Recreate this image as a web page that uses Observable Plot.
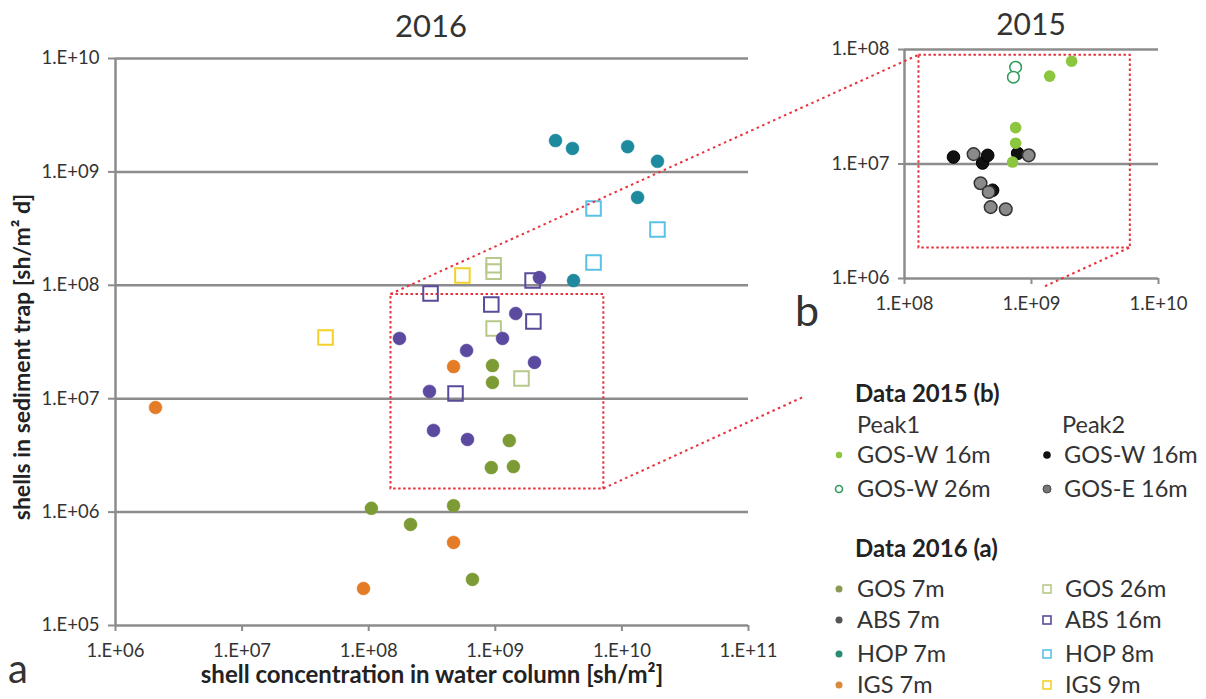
<!DOCTYPE html>
<html><head><meta charset="utf-8">
<script src="https://cdn.jsdelivr.net/npm/d3@7"></script>
<script src="https://cdn.jsdelivr.net/npm/@observablehq/plot@0.6"></script>
<style>
body{margin:0;background:#fff;}
#page{position:relative;width:1206px;height:699px;overflow:hidden;background:#fff;font-family:Lato,"Open Sans",sans-serif;}
#page > svg{position:absolute;}
</style></head><body><div id="page"></div>
<script>
// ---------- 2016 (panel a): shell concentration in water column [sh/m²] vs shells in sediment trap [sh/m² d]
const gos7m_water  = [9.5e8, 9.5e8, 1.29e9, 9.3e8, 1.39e9, 4.68e8, 2.14e8, 6.6e8, 1.05e8];
const gos7m_trap   = [1.96e7, 1.39e7, 4.27e6, 2.47e6, 2.52e6, 1.14e6, 7.78e5, 2.55e5, 1.08e6];
const abs7m_water  = [2.23e9, 1.45e9, 1.75e8, 1.14e9, 5.93e8, 2.04e9, 3.02e8, 3.25e8, 6.03e8];
const abs7m_trap   = [1.17e8, 5.64e7, 3.40e7, 3.40e7, 2.66e7, 2.09e7, 1.16e7, 5.25e6, 4.37e6];
const hop7m_water  = [2.99e9, 4.07e9, 1.11e10, 1.91e10, 1.33e10, 4.15e9];
const hop7m_trap   = [1.89e9, 1.61e9, 1.67e9, 1.24e9, 5.95e8, 1.10e8];
const igs7m_water  = [2.07e6, 9.1e7, 4.68e8, 4.68e8];
const igs7m_trap   = [8.36e6, 2.12e5, 1.92e7, 5.4e5];
const gos26m_water = [9.7e8, 9.7e8, 9.7e8, 1.61e9];
const gos26m_trap  = [1.5e8, 1.32e8, 4.16e7, 1.51e7];
const abs16m_water = [3.08e8, 1.97e9, 9.3e8, 2.0e9, 4.85e8];
const abs16m_trap  = [8.47e7, 1.10e8, 6.78e7, 4.8e7, 1.11e7];
const hop8m_water  = [5.97e9, 1.91e10, 5.97e9];
const hop8m_trap   = [4.75e8, 3.1e8, 1.59e8];
const igs9m_water  = [5.5e8, 4.56e7];
const igs9m_trap   = [1.22e8, 3.47e7];

// ---------- 2015 (panel b)
const p1_gosw16_water = [2.07e9, 1.39e9, 7.5e8, 7.5e8, 7.1e8];
const p1_gosw16_trap  = [7.9e7, 5.85e7, 2.08e7, 1.52e7, 1.04e7];
const p1_gosw26_water = [7.5e8, 7.2e8];
const p1_gosw26_trap  = [7.0e7, 5.73e7];
const p2_gosw16_water = [2.43e8, 4.12e8, 4.52e8, 7.78e8, 4.94e8];
const p2_gosw16_trap  = [1.15e7, 1.02e7, 1.19e7, 1.24e7, 5.9e6];
const p2_gose16_water = [3.5e8, 3.97e8, 4.6e8, 4.77e8, 6.27e8, 9.5e8];
const p2_gose16_trap  = [1.22e7, 6.8e6, 5.7e6, 4.2e6, 4.03e6, 1.19e7];

// zoom boxes
const zoomBoxWater = [1.5e8, 7.2e9];
const zoomBoxTrap  = [1.6e6, 8.3e7];
const insetBoxWater = [1.3e8, 6e9];
const insetBoxTrap  = [1.85e6, 8.9e7];

// ticks
const ticks2016x = [1e6, 1e7, 1e8, 1e9, 1e10, 1e11];
const ticks2016y = [1e5, 1e6, 1e7, 1e8, 1e9, 1e10];
const ticks2015x = [1e8, 1e9, 1e10];
const ticks2015y = [1e6, 1e7, 1e8];

// legend labels
const legend2015Cols = ["Peak1", "Peak2"];
const legend2015Items = [["GOS-W 16m", "GOS-W 26m"], ["GOS-W 16m", "GOS-E 16m"]];
const legend2016Left = ["GOS 7m", "ABS 7m", "HOP 7m", "IGS 7m"];
const legend2016Right = ["GOS 26m", "ABS 16m", "HOP 8m", "IGS 9m"];

// ---------- helpers
const rows = (xs, ys) => xs.map((x, i) => ({x, y: ys[i]}));
const fmtE = d => "1.E+" + String(Math.round(Math.log10(d))).padStart(2, "0");
const GRID = "#8c8c8c", RED = "#e8323c", TXT = "#333";
const C = {
  gos7: "#7d9b35", abs7: "#5b4aa0", hop7: "#1e8a9e", igs7: "#e47b26",
  gos26: "#b6c98a", abs16: "#5a4a9a", hop8: "#5ac2e6", igs9: "#f2d22a",
  p1w16: "#8cc63e", p1w26: "#2e9a5c", p2w16: "#111111", p2e16: "#8a8a8a"
};
const sq = (data, color) => Plot.dot(data, {x: "x", y: "y", symbol: "square", r: 8.2, stroke: color, strokeWidth: 2, fill: "none"});
const ci = (data, color) => Plot.dot(data, {x: "x", y: "y", r: 6.5, fill: color, stroke: color, strokeWidth: 0.5});

const page = document.getElementById("page");
const plotStyle = {fontFamily: "Lato, sans-serif", fontSize: "18.5px", color: TXT, background: "transparent", overflow: "visible"};

// ---------- main 2016 chart
const main = Plot.plot({
  width: 800, height: 699,
  marginLeft: 115, marginRight: 52, marginTop: 58, marginBottom: 74,
  x: {type: "log", domain: [1e6, 1e11]},
  y: {type: "log", domain: [1e5, 1e10]},
  style: plotStyle,
  marks: [
    Plot.ruleY(ticks2016y, {stroke: GRID, strokeWidth: 2.5}),
    Plot.ruleX([1e6], {stroke: GRID, strokeWidth: 2.5}),
    Plot.axisY({ticks: ticks2016y, tickFormat: fmtE, tickSize: 7, tickPadding: 9, stroke: GRID, strokeWidth: 2, label: null}),
    Plot.axisX({ticks: ticks2016x, tickFormat: fmtE, tickSize: 6, tickPadding: 12, stroke: GRID, strokeWidth: 2, label: null}),
    Plot.rect([{x1: zoomBoxWater[0], x2: zoomBoxWater[1], y1: zoomBoxTrap[0], y2: zoomBoxTrap[1]}],
      {x1: "x1", x2: "x2", y1: "y1", y2: "y2", fill: "none", stroke: RED, strokeWidth: 2, strokeDasharray: "2.5,2.5"}),
    sq(rows(gos26m_water, gos26m_trap), C.gos26),
    sq(rows(abs16m_water, abs16m_trap), C.abs16),
    sq(rows(hop8m_water, hop8m_trap), C.hop8),
    sq(rows(igs9m_water, igs9m_trap), C.igs9),
    ci(rows(gos7m_water, gos7m_trap), C.gos7),
    ci(rows(abs7m_water, abs7m_trap), C.abs7),
    ci(rows(hop7m_water, hop7m_trap), C.hop7),
    ci(rows(igs7m_water, igs7m_trap), C.igs7)
  ]
});
main.style.left = "0px"; main.style.top = "0px";
page.appendChild(main);

// ---------- inset 2015 chart
const INSET_LEFT = 800;
const inset = Plot.plot({
  width: 406, height: 322,
  marginLeft: 104, marginRight: 48, marginTop: 49, marginBottom: 44,
  x: {type: "log", domain: [1e8, 1e10]},
  y: {type: "log", domain: [1e6, 1e8]},
  style: plotStyle,
  marks: [
    Plot.ruleY(ticks2015y, {stroke: GRID, strokeWidth: 2.5}),
    Plot.ruleX([1e8], {stroke: GRID, strokeWidth: 2.5}),
    Plot.axisY({ticks: ticks2015y, tickFormat: fmtE, tickSize: 6, tickPadding: 9, stroke: GRID, strokeWidth: 2, label: null}),
    Plot.axisX({ticks: ticks2015x, tickFormat: fmtE, tickSize: 6, tickPadding: 12, stroke: GRID, strokeWidth: 2, label: null}),
    Plot.rect([{x1: insetBoxWater[0], x2: insetBoxWater[1], y1: insetBoxTrap[0], y2: insetBoxTrap[1]}],
      {x1: "x1", x2: "x2", y1: "y1", y2: "y2", fill: "none", stroke: RED, strokeWidth: 2, strokeDasharray: "2.5,2.5"}),
    Plot.dot(rows(p2_gosw16_water, p2_gosw16_trap), {x: "x", y: "y", r: 6.3, fill: C.p2w16, stroke: "#000", strokeWidth: 1}),
    Plot.dot(rows(p2_gose16_water, p2_gose16_trap), {x: "x", y: "y", r: 6.3, fill: C.p2e16, stroke: "#333", strokeWidth: 1.5}),
    Plot.dot(rows(p1_gosw16_water, p1_gosw16_trap), {x: "x", y: "y", r: 5.8, fill: C.p1w16}),
    Plot.dot(rows(p1_gosw26_water, p1_gosw26_trap), {x: "x", y: "y", r: 5.8, fill: "white", stroke: C.p1w26, strokeWidth: 1.5})
  ]
});
inset.style.left = INSET_LEFT + "px"; inset.style.top = "0px";
page.appendChild(inset);

// ---------- overlay: texts, connectors, legend
const ov = d3.select(page).append("svg")
  .attr("width", 1206).attr("height", 699)
  .style("left", "0px").style("top", "0px").style("pointer-events", "none")
  .style("font-family", "Lato, sans-serif");

const mx = main.scale("x").apply, my = main.scale("y").apply;
const ix = v => INSET_LEFT + inset.scale("x").apply(v), iy = inset.scale("y").apply;

// connector lines
const A = [mx(zoomBoxWater[0]), my(zoomBoxTrap[1])], B = [ix(insetBoxWater[0]), iy(insetBoxTrap[1])];
const Cc = [mx(zoomBoxWater[1]), my(zoomBoxTrap[0])], D = [ix(insetBoxWater[1]), iy(insetBoxTrap[0])];
const atX = (P, Q, x) => [x, P[1] + (Q[1] - P[1]) * (x - P[0]) / (Q[0] - P[0])];
const segs = [[A, B], [Cc, atX(Cc, D, 805)], [atX(Cc, D, 1045), D]];
ov.selectAll("line.con").data(segs).join("line").attr("class", "con")
  .attr("x1", d => d[0][0]).attr("y1", d => d[0][1]).attr("x2", d => d[1][0]).attr("y2", d => d[1][1])
  .attr("stroke", RED).attr("stroke-width", 2).attr("stroke-dasharray", "2.5,3.5");

const txt = (x, y, s, o = {}) => ov.append("text").attr("x", x).attr("y", y).text(s)
  .attr("fill", o.fill || "#222").attr("font-size", o.size || 22).attr("font-weight", o.weight || 400)
  .attr("text-anchor", o.anchor || "start");

// titles and axis labels
txt(431, 37, "2016", {size: 31, anchor: "middle", fill: "#333"});
txt(1031, 35, "2015", {size: 30, anchor: "middle", fill: "#333"});
txt(432, 683, "shell concentration in water column [sh/m²]", {size: 24, weight: 700, anchor: "middle"});
ov.append("text").attr("transform", "translate(30,357) rotate(-90)").attr("text-anchor", "middle")
  .attr("font-size", 23).attr("font-weight", 700).attr("fill", "#222").text("shells in sediment trap [sh/m² d]");
txt(8, 683, "a", {size: 40, fill: "#333"});
txt(795, 326, "b", {size: 43, fill: "#333"});

// legend
const LF = 23.5;
txt(855, 402, "Data 2015 (b)", {size: 24, weight: 700});
txt(857, 433, legend2015Cols[0], {size: LF, fill: "#333"});
txt(1062, 433, legend2015Cols[1], {size: LF, fill: "#333"});
const rowY2015 = [463, 497];
legend2015Items[0].forEach((s, i) => txt(857, rowY2015[i], s, {size: LF, fill: "#333"}));
legend2015Items[1].forEach((s, i) => txt(1064, rowY2015[i], s, {size: LF, fill: "#333"}));
ov.append("circle").attr("cx", 839).attr("cy", 455).attr("r", 3.2).attr("fill", C.p1w16);
ov.append("circle").attr("cx", 839).attr("cy", 489).attr("r", 3.5).attr("fill", "white").attr("stroke", C.p1w26).attr("stroke-width", 1.6);
ov.append("circle").attr("cx", 1047).attr("cy", 455).attr("r", 3.8).attr("fill", "#111");
ov.append("circle").attr("cx", 1047).attr("cy", 489).attr("r", 4).attr("fill", "#777").attr("stroke", "#444").attr("stroke-width", 1);

txt(855, 557, "Data 2016 (a)", {size: 24, weight: 700});
const rowY2016 = [597, 628, 662, 693];
const leftIcon = ["#8a9a55", "#555555", "#2a8a72", "#d9893a"];
const rightIcon = [C.gos26, C.abs16, C.hop8, C.igs9];
legend2016Left.forEach((s, i) => {
  txt(857, rowY2016[i], s, {size: LF, fill: "#333"});
  ov.append("circle").attr("cx", 839).attr("cy", rowY2016[i] - 8).attr("r", 3.5).attr("fill", leftIcon[i]);
});
legend2016Right.forEach((s, i) => {
  txt(1065, rowY2016[i], s, {size: LF, fill: "#333"});
  ov.append("rect").attr("x", 1043).attr("y", rowY2016[i] - 12).attr("width", 8).attr("height", 8)
    .attr("fill", "none").attr("stroke", rightIcon[i]).attr("stroke-width", 1.6);
});
</script>
</body></html>
